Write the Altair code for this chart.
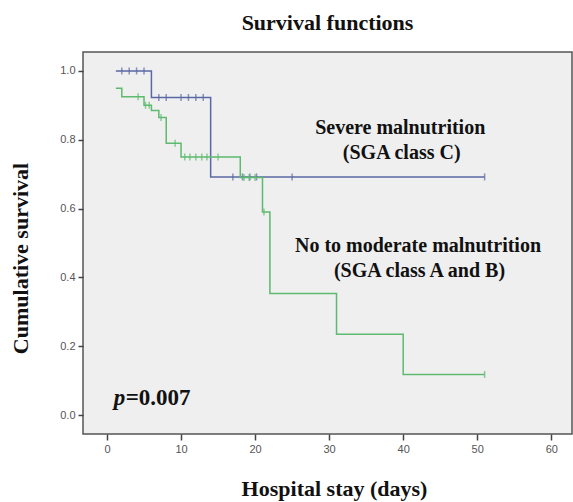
import altair as alt
import pandas as pd

# Kaplan-Meier step data
blue_times = [1.2, 6, 14, 51]
blue_surv = [1.0, 0.923, 0.692, 0.692]
blue_cens_t = [2, 3, 4, 5, 7, 8, 10, 11, 12, 13, 17, 18.3, 19.3, 20.2, 25, 51]
blue_cens_s = [1.0, 1.0, 1.0, 1.0, 0.923, 0.923, 0.923, 0.923, 0.923, 0.923,
               0.692, 0.692, 0.692, 0.692, 0.692, 0.692]

green_times = [1.2, 2, 5, 6, 7, 8, 10, 18, 21, 22, 31, 40, 51]
green_surv = [0.95, 0.925, 0.90, 0.885, 0.865, 0.79, 0.75, 0.69, 0.59, 0.353, 0.235, 0.118, 0.118]
green_cens_t = [4.2, 5.2, 5.7, 7.3, 9.2, 10.5, 11.2, 12, 12.8, 13.5, 15, 18.5, 19.2, 20, 21.2, 51]
green_cens_s = [0.925, 0.90, 0.90, 0.865, 0.79, 0.75, 0.75, 0.75, 0.75, 0.75, 0.75,
                0.69, 0.69, 0.69, 0.59, 0.118]

y_ticks = [0.0, 0.2, 0.4, 0.6, 0.8, 1.0]
x_ticks = [0, 10, 20, 30, 40, 50, 60]

BLUE = "#5a68a4"
GREEN = "#5dba6e"
SERIF = "Liberation Serif"
SANS = "Liberation Sans"

blue_df = pd.DataFrame({"t": blue_times, "s": blue_surv})
green_df = pd.DataFrame({"t": green_times, "s": green_surv})
blue_c = pd.DataFrame({"t": blue_cens_t, "s": blue_cens_s})
green_c = pd.DataFrame({"t": green_cens_t, "s": green_cens_s})

xs = alt.Scale(domain=[-3.24, 62.8], nice=False, zero=False)
ys = alt.Scale(domain=[-0.055, 1.055], nice=False, zero=False)

xenc = alt.X("t:Q", scale=xs, axis=alt.Axis(
    values=x_ticks, title="Hospital stay (days)", grid=False, domain=False,
    tickColor="#444", tickSize=6, tickWidth=1.5, labelColor="#555", labelFont=SANS,
    labelFontSize=11, labelPadding=3, titleFont=SERIF, titleFontSize=22,
    titleFontWeight="bold", titleColor="#111", titlePadding=24, titleX=251))
yenc = alt.Y("s:Q", scale=ys, axis=alt.Axis(
    values=y_ticks, format=".1f", title="Cumulative survival", grid=False, domain=False,
    tickColor="#444", tickSize=5, tickWidth=1.5, labelColor="#555", labelFont=SANS,
    labelFontSize=11, labelPadding=3, titleFont=SERIF, titleFontSize=22,
    titleFontWeight="bold", titleColor="#111", titlePadding=27, titleY=206))

blue_line = alt.Chart(blue_df).mark_line(interpolate="step-after", color=BLUE, strokeWidth=1.5).encode(x=xenc, y=yenc)
green_line = alt.Chart(green_df).mark_line(interpolate="step-after", color=GREEN, strokeWidth=1.5).encode(x="t:Q", y="s:Q")
blue_ticks = alt.Chart(blue_c).mark_tick(orient="vertical", color=BLUE, size=7, thickness=1.5).encode(x="t:Q", y="s:Q")
green_ticks = alt.Chart(green_c).mark_tick(orient="vertical", color=GREEN, size=7, thickness=1.5).encode(x="t:Q", y="s:Q")

def label(text, x, y, align="center", style="normal", dx=0, size=20):
    return alt.Chart().mark_text(text=text, font=SERIF, fontSize=size, fontWeight="bold",
                                 fontStyle=style, color="#111", align=align, dx=dx).encode(
        x=alt.datum(x), y=alt.datum(y))

texts = [
    label("Severe malnutrition", 39.6, 0.834),
    label("(SGA class C)", 39.8, 0.762),
    label("No to moderate malnutrition", 42.0, 0.491),
    label("(SGA class A and B)", 42.2, 0.419),
    label("p", 0.9, 0.05, align="left", style="italic", size=23),
    label("=0.007", 0.9, 0.05, align="left", dx=12, size=23),
]

chart = alt.layer(blue_line, blue_ticks, green_line, green_ticks, *texts).properties(
    width=489, height=382,
    title=alt.TitleParams("Survival functions", font=SERIF, fontSize=22, fontWeight="bold",
                          color="#111", offset=17),
    autosize=alt.AutoSizeParams(type="none"),
    padding={"left": 83, "top": 52, "right": 1, "bottom": 68},
    background="white",
).configure_view(fill="#efefef", stroke="#555", strokeWidth=1.5)

chart.save("out.html", embed_options={"renderer": "svg", "actions": False})
